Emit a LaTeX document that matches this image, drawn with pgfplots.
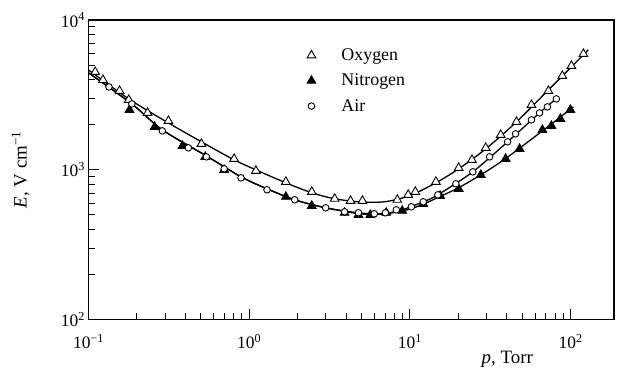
\documentclass[border=0pt]{standalone}
\usepackage{fontspec}
\setmainfont{Liberation Serif}
\usepackage{pgfplots}
\pgfplotsset{compat=1.18}
\begin{document}
\begin{tikzpicture}
\begin{axis}[
  name=ax,
  scale only axis,
  width=526bp, height=300bp,
  xmode=log, ymode=log,
  xmin=0.1, xmax=186, ymin=100, ymax=10000,
  axis line style={line width=1.2bp},
  tick align=inside,
  xtick pos=bottom, ytick pos=left,
  xtick={0.1,1,10,100},
  xticklabels={10\textsuperscript{−1},10\textsuperscript{0},10\textsuperscript{1},10\textsuperscript{2}},
  ytick={100,1000,10000},
  yticklabels={10\textsuperscript{2},10\textsuperscript{3},10\textsuperscript{4}},
  major tick length=11bp, minor tick length=6.5bp,
  every tick/.append style={black, line width=1bp},
  tick label style={font=\fontsize{17.5}{17.5}\selectfont},
  xticklabel style={yshift=-11bp},
  xlabel={\textit{p}, Torr},
  ylabel={\textit{E}, V cm\textsuperscript{−1}},
  every axis x label/.style={at={(rel axis cs:0.797,-0.093)}, anchor=north, font=\fontsize{19}{19}\selectfont},
  every axis y label/.style={at={(rel axis cs:-0.1293,0.5)}, rotate=90, anchor=center, font=\fontsize{19}{19}\selectfont},
  legend style={at={(rel axis cs:0.41,0.918)}, anchor=north west, draw=none, fill=none,
    font=\fontsize{18}{18}\selectfont, row sep=8bp},
  legend cell align=left,
  legend image code/.code={\path[draw=none, fill=none] (0bp,-0.1bp) rectangle (32bp,0.1bp);
    \draw[#1, only marks] plot coordinates {(4bp,0bp)};},
]
% fitted curves
\addplot[black, line width=1.3bp, smooth, forget plot] coordinates {
(0.1,4640) (0.178,2974) (0.314,2057) (0.504,1538) (0.805,1166) (1.10,1000)
(1.69,819) (2.45,703) (3.40,641) (4.85,612) (6.92,612) (9.89,671) (14.5,819)
(20.1,1016) (29.6,1380) (46.0,2089) (72.7,3415) (101,4859) (128.5,6310)};
\addplot[black, line width=1.3bp, smooth, forget plot] coordinates {
(0.1,4436) (0.186,2754) (0.288,1848) (0.541,1239) (0.889,898) (1.29,747)
(1.92,631) (2.99,558) (4.78,517) (6.45,509) (8.57,533) (12.1,612) (14.9,681)
(24.6,970) (40.5,1538) (64.0,2399) (83.8,3066)};
\addplot[black, line width=1.3bp, smooth, forget plot] coordinates {
(0.1,4436) (0.186,2754) (0.288,1848) (0.541,1239) (0.889,898) (1.29,747)
(1.92,631) (2.99,558) (4.78,510) (6.45,505) (8.57,525) (10.2,551) (12.1,590)
(15.4,664) (20.1,760) (27.6,926) (39.4,1190) (66.7,1820) (104,2630)};
% data
\addplot[only marks, mark=triangle*, mark size=5bp, mark options={draw=black, fill=white, line width=0.9bp}] coordinates {
(0.110,4500) (0.123,3980) (0.156,3365) (0.178,2930) (0.233,2400) (0.314,2120)
(0.504,1490) (0.805,1183) (1.10,985) (1.69,832) (2.45,713) (3.40,641) (4.27,621)
(5.06,621) (8.34,631) (9.75,681) (10.8,713) (14.5,832) (20.1,1031) (24.3,1166)
(29.6,1402) (36.7,1711) (46.0,2089) (57.0,2713) (72.7,3362) (88.7,4233)
(101,4937) (120,5935)};
\addlegendentry{Oxygen}
\addplot[only marks, mark=triangle*, mark size=5bp, mark options={draw=black, fill=black, line width=0.9bp}] coordinates {
(0.180,2512) (0.258,1935) (0.384,1445) (0.533,1221) (0.698,1000) (1.69,661)
(2.45,575) (3.92,517) (4.78,501) (5.67,501) (7.12,517) (8.95,533) (12.1,593)
(15.4,671) (20.1,747) (27.6,926) (39.4,1184) (48.1,1380) (66.7,1848) (75.9,1965)
(86.3,2188) (99.5,2512)};
\addlegendentry{Nitrogen}
\addplot[only marks, mark=*, mark size=3.3bp, mark options={draw=black, fill=white, line width=0.9bp}] coordinates {
(0.134,3575) (0.186,2754) (0.288,1820) (0.418,1402) (0.541,1221) (0.698,1016)
(0.889,885) (1.29,736) (1.92,631) (2.99,558) (3.92,525) (4.78,517) (6.0,509)
(7.03,517) (8.22,541) (10.2,567) (12.1,612) (14.9,681) (19.3,807) (24.6,970)
(31.3,1221) (40.5,1538) (45.4,1738) (57.0,2154) (64.0,2399) (71.6,2630) (81.4,2974)};
\addlegendentry{Air}
\end{axis}
\pgfresetboundingbox
\path[use as bounding box] ([shift={(-88.6bp,-52bp)}]ax.south west) rectangle ([shift={(5bp,20bp)}]ax.north east);
\end{tikzpicture}
\end{document}
